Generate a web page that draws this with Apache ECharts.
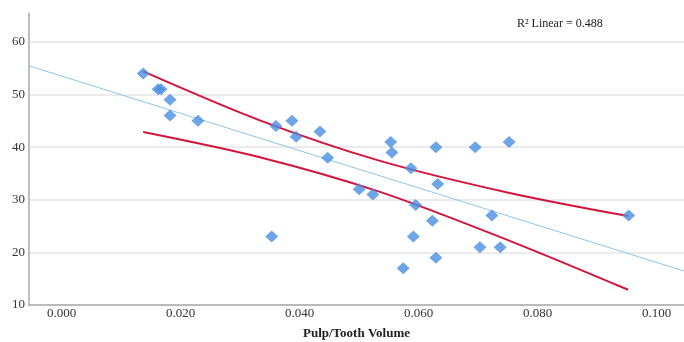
<!DOCTYPE html>
<html>
<head>
<meta charset="utf-8">
<script src="https://cdn.jsdelivr.net/npm/echarts@6/dist/echarts.min.js"></script>
<style>
html,body{margin:0;padding:0;background:#fff;}
#chart{width:684px;height:342px;}
</style>
</head>
<body>
<div id="chart"></div>
<script>
// Scatter points (Pulp/Tooth Volume, value)
var ptX = [0.0137,0.0162,0.0167,0.0182,0.0182,0.0229,0.0360,0.0387,0.0394,0.0434,
           0.0447,0.0553,0.0555,0.0629,0.0695,0.0752,0.0587,0.0500,0.0523,0.0632,
           0.0595,0.0623,0.0353,0.0591,0.0629,0.0574,0.0703,0.0737,0.0723,0.0953];
var ptY = [54,51,51,49,46,45,44,45,42,43,
           38,41,39,40,40,41,36,32,31,33,
           29,26,23,23,19,17,21,21,27,27];
// Linear fit line endpoints
var fitX = [-0.0055, 0.1046];
var fitY = [55.45, 16.46];
// Confidence band (upper / lower)
var bandX = [0.0137, 0.0333, 0.0535, 0.0753, 0.0952];
var upperY = [54.4, 45.1, 37.4, 31.3, 26.9];
var lowerY = [42.9, 38.1, 31.5, 22.2, 12.9];
// Tick labels
var xTicks = [0, 0.02, 0.04, 0.06, 0.08, 0.10];
var yTicks = [10, 20, 30, 40, 50, 60];
var xTitle = 'Pulp/Tooth Volume';
var rText = 'R\u00B2 Linear = 0.488';

function zip(a, b){ return a.map(function(v,i){ return [v, b[i]]; }); }

var chart = echarts.init(document.getElementById('chart'), null, {renderer:'canvas'});
var font = 'Liberation Serif';
chart.setOption({
  animation: false,
  backgroundColor: '#fff',
  grid: {left: 29, right: 0, top: 13, bottom: 37, outerBoundsMode: 'none', containLabel: false},
  xAxis: {
    type: 'value', min: -0.0055, max: 0.1046,
    axisLine: {show: true, onZero: false, lineStyle: {color: '#aaaaaa', width: 1.5}},
    axisTick: {show: false, customValues: xTicks},
    splitLine: {show: false},
    axisLabel: {customValues: xTicks, formatter: function(v){ return v.toFixed(3); },
      fontFamily: font, fontSize: 13, color: '#333', margin: 2},
    name: xTitle, nameLocation: 'middle', nameGap: 22,
    nameTextStyle: {fontFamily: font, fontSize: 13, fontWeight: 'bold', color: '#222'}
  },
  yAxis: {
    type: 'value', min: 10, max: 65.5,
    axisLine: {show: true, onZero: false, lineStyle: {color: '#aaaaaa', width: 1.5}},
    axisTick: {show: false, customValues: yTicks},
    splitLine: {show: true, lineStyle: {color: '#e4e4e4', width: 1.5}},
    axisLabel: {customValues: yTicks, fontFamily: font, fontSize: 13, color: '#333', margin: 4}
  },
  graphic: [{
    type: 'text', left: 517, top: 18,
    style: {text: rText, font: '12px "Liberation Serif"', fill: '#222'}
  }],
  series: [
    {type: 'line', data: zip(fitX, fitY), showSymbol: false, symbol: 'none',
     lineStyle: {color: '#8cc6e8', width: 1}, z: 1},
    {type: 'line', data: zip(bandX, upperY), showSymbol: false, symbol: 'none', smooth: 0.3,
     lineStyle: {color: '#d3143c', width: 2}, z: 2},
    {type: 'line', data: zip(bandX, lowerY), showSymbol: false, symbol: 'none', smooth: 0.3,
     lineStyle: {color: '#d3143c', width: 2}, z: 2},
    {type: 'scatter', data: zip(ptX, ptY), symbol: 'diamond', symbolSize: [13, 12],
     itemStyle: {color: '#4a8fe0'}, z: 3}
  ]
});
</script>
</body>
</html>
